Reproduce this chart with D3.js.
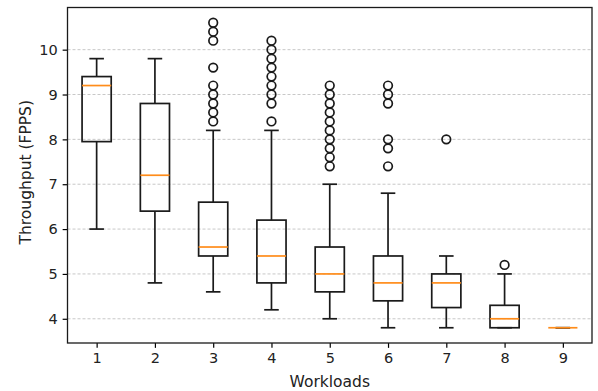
<!DOCTYPE html>
<html>
<head>
<meta charset="utf-8">
<script src="https://cdn.jsdelivr.net/npm/d3@7"></script>
<style>
  body { margin: 0; background: #fff; }
  svg { display: block; font-family: "DejaVu Sans", sans-serif; }
</style>
</head>
<body>
<script>
// box stats per workload
const workloads = [1, 2, 3, 4, 5, 6, 7, 8, 9];
const whiskerLow = [6.0, 4.8, 4.6, 4.2, 4.0, 3.8, 3.8, 3.8, 3.8];
const q1 = [7.95, 6.4, 5.4, 4.8, 4.6, 4.4, 4.25, 3.8, 3.8];
const medians = [9.2, 7.2, 5.6, 5.4, 5.0, 4.8, 4.8, 4.0, 3.8];
const q3 = [9.4, 8.8, 6.6, 6.2, 5.6, 5.4, 5.0, 4.3, 3.8];
const whiskerHigh = [9.8, 9.8, 8.2, 8.2, 7.0, 6.8, 5.4, 5.0, 3.8];
const outliers = [
  [],
  [],
  [8.4, 8.6, 8.8, 9.0, 9.2, 9.6, 10.2, 10.4, 10.6],
  [8.4, 8.8, 9.0, 9.2, 9.4, 9.6, 9.8, 10.0, 10.2],
  [7.4, 7.6, 7.8, 8.0, 8.2, 8.4, 8.6, 8.8, 9.0, 9.2],
  [7.4, 7.8, 8.0, 8.8, 9.0, 9.2],
  [8.0],
  [5.2],
  []
];
const yTicks = [4, 5, 6, 7, 8, 9, 10];

const width = 598, height = 391;
const margin = { left: 67.5, right: 6, top: 7.5, bottom: 48 };
const pt = 100 / 72; // px per point

const svg = d3.select("body").append("svg")
  .attr("width", width)
  .attr("height", height);

const x = d3.scaleLinear().domain([0.5, 9.5]).range([margin.left, width - margin.right]);
const allVals = whiskerLow.concat(whiskerHigh, outliers.flat());
const lo = d3.min(allVals), hi = d3.max(allVals), pad = (hi - lo) * 0.05;
const y = d3.scaleLinear().domain([lo - pad, hi + pad]).range([height - margin.bottom, margin.top]);

// grid
svg.append("g")
  .selectAll("line")
  .data(yTicks)
  .join("line")
  .attr("x1", margin.left).attr("x2", width - margin.right)
  .attr("y1", d => y(d)).attr("y2", d => y(d))
  .attr("stroke", "#b0b0b0")
  .attr("stroke-opacity", 0.7)
  .attr("stroke-width", 1)
  .attr("stroke-dasharray", "3,2");

// axes
const xAxis = svg.append("g")
  .attr("transform", `translate(0,${height - margin.bottom})`)
  .call(d3.axisBottom(x).tickValues(workloads).tickSize(3.5 * pt).tickPadding(3.5 * pt));
const yAxis = svg.append("g")
  .attr("transform", `translate(${margin.left},0)`)
  .call(d3.axisLeft(y).tickValues(yTicks).tickSize(3.5 * pt).tickPadding(3.5 * pt));
[xAxis, yAxis].forEach(a => {
  a.select(".domain").remove();
  a.selectAll("line").attr("stroke", "#000").attr("stroke-width", 1.2);
  a.selectAll("text").attr("font-size", 14.5).attr("font-family", "DejaVu Sans").attr("fill", "#222");
});

const bw = 0.5; // box width in data units
const boxes = svg.append("g")
  .selectAll("g")
  .data(workloads.map((w, i) => ({ w, i })))
  .join("g");

// whiskers
boxes.append("line")
  .attr("x1", d => x(d.w)).attr("x2", d => x(d.w))
  .attr("y1", d => y(whiskerLow[d.i])).attr("y2", d => y(q1[d.i]));
boxes.append("line")
  .attr("x1", d => x(d.w)).attr("x2", d => x(d.w))
  .attr("y1", d => y(q3[d.i])).attr("y2", d => y(whiskerHigh[d.i]));
// caps
boxes.append("line")
  .attr("x1", d => x(d.w - bw / 4)).attr("x2", d => x(d.w + bw / 4))
  .attr("y1", d => y(whiskerLow[d.i])).attr("y2", d => y(whiskerLow[d.i]));
boxes.append("line")
  .attr("x1", d => x(d.w - bw / 4)).attr("x2", d => x(d.w + bw / 4))
  .attr("y1", d => y(whiskerHigh[d.i])).attr("y2", d => y(whiskerHigh[d.i]));
// box
boxes.append("rect")
  .attr("x", d => x(d.w - bw / 2))
  .attr("width", x(1 + bw) - x(1))
  .attr("y", d => y(q3[d.i]))
  .attr("height", d => y(q1[d.i]) - y(q3[d.i]))
  .attr("fill", "none");
boxes.selectAll("line, rect")
  .attr("stroke", "#1a1a1a")
  .attr("stroke-width", 1.7);

// median
boxes.append("line")
  .attr("x1", d => x(d.w - bw / 2)).attr("x2", d => x(d.w + bw / 2))
  .attr("y1", d => y(medians[d.i])).attr("y2", d => y(medians[d.i]))
  .attr("stroke", "#ff8c1a")
  .attr("stroke-width", 1.7);

// fliers
boxes.selectAll("circle")
  .data(d => outliers[d.i].map(v => ({ w: d.w, v })))
  .join("circle")
  .attr("cx", d => x(d.w))
  .attr("cy", d => y(d.v))
  .attr("r", 4.3)
  .attr("fill", "none")
  .attr("stroke", "#1a1a1a")
  .attr("stroke-width", 1.7);

// frame
svg.append("rect")
  .attr("x", margin.left).attr("y", margin.top)
  .attr("width", width - margin.right - margin.left)
  .attr("height", height - margin.bottom - margin.top)
  .attr("fill", "none")
  .attr("stroke", "#1a1a1a")
  .attr("stroke-width", 1.3);

// labels
svg.append("text")
  .attr("x", (margin.left + width - margin.right) / 2)
  .attr("y", height - 4)
  .attr("text-anchor", "middle")
  .attr("font-size", 15.5)
  .attr("fill", "#222")
  .text("Workloads");
svg.append("text")
  .attr("transform", `translate(31,${(margin.top + height - margin.bottom) / 2 - 3}) rotate(-90)`)
  .attr("text-anchor", "middle")
  .attr("font-size", 15.5)
  .attr("fill", "#222")
  .text("Throughput (FPPS)");
</script>
</body>
</html>
